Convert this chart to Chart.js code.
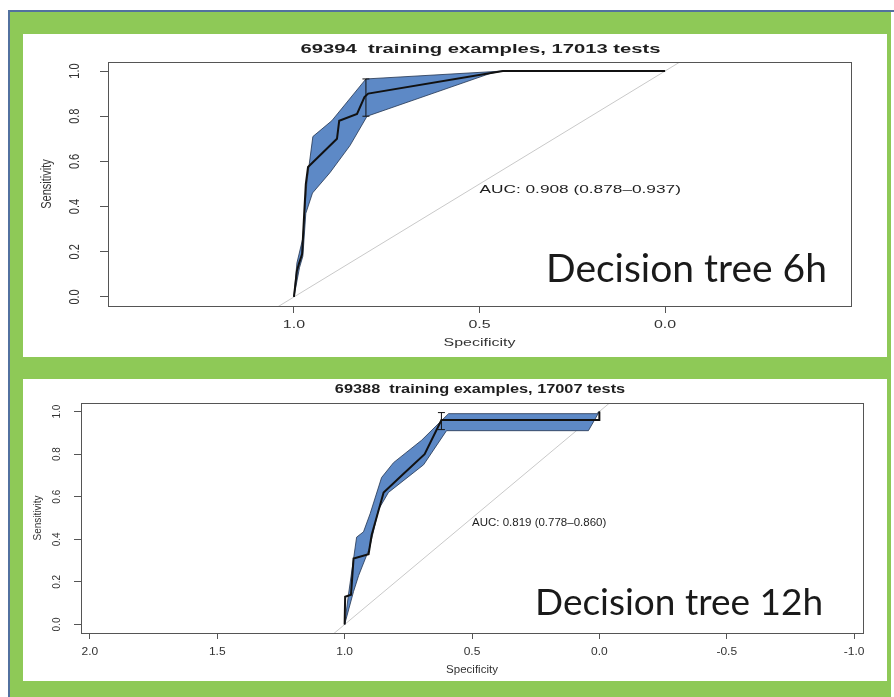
<!DOCTYPE html>
<html>
<head>
<meta charset="utf-8">
<script src="https://cdn.jsdelivr.net/npm/chart.js@4/dist/chart.umd.min.js"></script>
<style>
  html, body { margin: 0; padding: 0; background: #fff; }
  #page { position: relative; width: 894px; height: 697px; overflow: hidden; background: #fff; }
  #rule-top { position: absolute; left: 8px; top: 10px; width: 886px; height: 2px; background: #52719f; }
  #rule-left { position: absolute; left: 8px; top: 10px; width: 2px; height: 687px; background: #52719f; }
  #frame { position: absolute; left: 10px; top: 12px; width: 881px; height: 685px; background: #8ec957; }
  canvas { position: absolute; background: #fff; }
  #c6 { left: 23px; top: 34px; }
  #c12 { left: 23px; top: 379px; }
</style>
</head>
<body>
<div id="page">
  <div id="frame"></div>
  <div id="rule-top"></div>
  <div id="rule-left"></div>
  <canvas id="c6" width="864" height="323"></canvas>
  <canvas id="c12" width="864" height="302"></canvas>
</div>
<script>
// ---- 6 h decision tree: ROC curve and sensitivity confidence band ----
const spec6 = [1.0, 0.992, 0.986, 0.978, 0.972, 0.968, 0.962, 0.884, 0.878, 0.830, 0.810, 0.800, 0.437, 0.0];
const sens6 = [0.0, 0.115, 0.150, 0.190, 0.380, 0.500, 0.575, 0.700, 0.780, 0.810, 0.885, 0.900, 1.0, 1.0];
const ciHiSpec6 = [1.0, 0.992, 0.976, 0.965, 0.949, 0.898, 0.806, 0.437, 0.0];
const ciHiSens6 = [0.0, 0.150, 0.260, 0.510, 0.710, 0.780, 0.965, 1.0, 1.0];
const ciLoSpec6 = [1.0, 0.985, 0.976, 0.968, 0.950, 0.903, 0.849, 0.803, 0.470, 0.437, 0.0];
const ciLoSens6 = [0.0, 0.130, 0.180, 0.370, 0.460, 0.550, 0.670, 0.800, 0.990, 1.0, 1.0];
const ciBar6 = [0.806, 0.800, 0.965];          // specificity, lower, upper
const xTicks6 = [1.0, 0.5, 0.0];
const title6 = '69394  training examples, 17013 tests';
const auc6 = 'AUC: 0.908 (0.878\u20130.937)';
const label6 = 'Decision tree 6h';

// ---- 12 h decision tree ----
const spec12 = [1.0, 0.998, 0.975, 0.965, 0.906, 0.894, 0.847, 0.776, 0.686, 0.620, 0.0, 0.0];
const sens12 = [0.0, 0.130, 0.140, 0.310, 0.330, 0.420, 0.620, 0.700, 0.800, 0.960, 0.960, 1.0];
const ciHiSpec12 = [1.0, 0.985, 0.953, 0.926, 0.900, 0.855, 0.808, 0.698, 0.592, 0.010, 0.0];
const ciHiSens12 = [0.0, 0.140, 0.410, 0.435, 0.520, 0.690, 0.760, 0.865, 0.990, 0.990, 1.0];
const ciLoSpec12 = [1.0, 0.965, 0.945, 0.902, 0.867, 0.828, 0.690, 0.600, 0.043, 0.0];
const ciLoSens12 = [0.0, 0.155, 0.230, 0.360, 0.540, 0.620, 0.750, 0.910, 0.910, 1.0];
const ciBar12 = [0.620, 0.915, 0.995];
const xTicks12 = [2.0, 1.5, 1.0, 0.5, 0.0, -0.5, -1.0];
const title12 = '69388  training examples, 17007 tests';
const auc12 = 'AUC: 0.819 (0.778\u20130.860)';
const label12 = 'Decision tree 12h';

// shared
const yTicks = [0.0, 0.2, 0.4, 0.6, 0.8, 1.0];
const chanceSpec = [1.2, -0.2];
const chanceSens = [-0.2, 1.2];

const pts = (xs, ys) => xs.map((v, i) => ({ x: v, y: ys[i] }));

// closed outline of the band: upper edge out, lower edge back
const band = (hs, hy, ls, ly) => pts(hs, hy).concat(pts(ls, ly).reverse());

const SANS = '"Liberation Sans", Arial, sans-serif';

// frame around the plot region plus all the R-style text
const annotate = {
  id: 'annotate',
  afterDraw(chart, args, o) {
    const { ctx, chartArea: a, scales: { x, y } } = chart;
    ctx.save();
    ctx.strokeStyle = '#555';
    ctx.lineWidth = 1;
    ctx.strokeRect(Math.round(a.left) + 0.5, Math.round(a.top) + 0.5,
                   Math.round(a.right - a.left), Math.round(a.bottom - a.top));
    ctx.restore();

    const put = (txt, px, py, font, sx, align = 'center', rot = 0, color = '#1e1e1e') => {
      ctx.save();
      ctx.translate(px, py);
      ctx.scale(sx, 1);
      if (rot) ctx.rotate(rot);
      ctx.font = font;
      ctx.textAlign = align;
      ctx.textBaseline = 'middle';
      ctx.fillStyle = color;
      ctx.fillText(txt, 0, 0);
      ctx.restore();
    };
    const cx = (a.left + a.right) / 2;
    const cy = (a.top + a.bottom) / 2;

    put(o.title, cx + o.titleShift, o.titleY, o.titleFont, o.titleSx);
    o.yTicks.forEach(v => put(v.toFixed(1), a.left - o.yLabelGap, y.getPixelForValue(v),
                              o.tickFont, o.yTickSx, 'center', -Math.PI / 2, '#333'));
    put('Sensitivity', a.left - o.yTitleGap, cy, o.axisFont, o.yTickSx, 'center', -Math.PI / 2, '#333');
    o.xTicks.forEach(v => put(v.toFixed(1), x.getPixelForValue(v), a.bottom + o.xLabelGap,
                              o.tickFont, o.xTickSx, 'center', 0, '#333'));
    put('Specificity', cx, a.bottom + o.xTitleGap, o.axisFont, o.axisSx, 'center', 0, '#333');
    put(o.auc, x.getPixelForValue(o.aucAt[0]), y.getPixelForValue(o.aucAt[1]), o.aucFont, o.aucSx, 'left');
    put(o.label, o.labelPos[0], o.labelPos[1], o.labelFont, 1, 'left', 0, '#1a1a1a');
  }
};

function rocChart(id, d) {
  return new Chart(document.getElementById(id), {
    type: 'line',
    data: {
      datasets: [
        // lower "order" is painted later (on top)
        { order: 4, data: pts(chanceSpec, chanceSens), borderColor: '#c9c9c9', borderWidth: 1,
          pointRadius: 0, fill: false },
        { order: 3, data: band(d.hiSpec, d.hiSens, d.loSpec, d.loSens), borderColor: '#22344f',
          borderWidth: 0.8, backgroundColor: '#5d89c6', pointRadius: 0, fill: 'shape' },
        { order: 2, data: pts(d.spec, d.sens), borderColor: '#111', borderWidth: 2,
          pointRadius: 0, fill: false },
        { order: 1, data: [{ x: d.bar[0], y: d.bar[1] }, { x: d.bar[0], y: d.bar[2] }],
          borderColor: '#111', borderWidth: 1, pointStyle: 'line', pointRadius: 3.5,
          pointBorderWidth: 1, pointBorderColor: '#111', fill: false }
      ]
    },
    options: {
      responsive: false,
      animation: false,
      devicePixelRatio: 1,
      layout: { padding: { left: 0, top: d.padTop, right: d.padRight, bottom: 0 } },
      plugins: {
        legend: { display: false },
        tooltip: { enabled: false },
        annotate: d.text
      },
      scales: {
        x: {
          type: 'linear', reverse: true, min: d.xMin, max: d.xMax,
          afterBuildTicks: s => { s.ticks = d.xTicks.map(v => ({ value: v })); },
          afterFit: s => { s.height = d.xHeight; },
          ticks: { display: false },
          grid: { drawOnChartArea: false, drawTicks: true, tickLength: d.xTickLen, color: '#555' },
          border: { display: false }
        },
        y: {
          type: 'linear', min: -0.04, max: 1.04,
          afterBuildTicks: s => { s.ticks = yTicks.map(v => ({ value: v })); },
          afterFit: s => { s.width = d.yWidth; },
          ticks: { display: false },
          grid: { drawOnChartArea: false, drawTicks: true, tickLength: d.yTickLen, color: '#555' },
          border: { display: false }
        }
      }
    },
    plugins: [annotate]
  });
}

rocChart('c6', {
  spec: spec6, sens: sens6,
  hiSpec: ciHiSpec6, hiSens: ciHiSens6, loSpec: ciLoSpec6, loSens: ciLoSens6,
  bar: ciBar6, xTicks: xTicks6, xMin: -0.501, xMax: 1.501,
  padTop: 28, padRight: 36, xHeight: 51, yWidth: 85, xTickLen: 7, yTickLen: 8,
  text: {
    title: title6, titleY: 15, titleShift: 1, titleFont: 'bold 13.5px ' + SANS, titleSx: 1.5,
    yTicks: yTicks, xTicks: xTicks6,
    tickFont: '11px ' + SANS, xTickSx: 1.45, yTickSx: 1.3,
    yLabelGap: 33, yTitleGap: 61, xLabelGap: 19, xTitleGap: 37,
    axisFont: '11px ' + SANS, axisSx: 1.45,
    auc: auc6, aucAt: [0.5, 0.475], aucFont: '11.5px ' + SANS, aucSx: 1.5,
    label: label6, labelPos: [523, 235], labelFont: '39px Lato, "Open Sans", sans-serif'
  }
});

rocChart('c12', {
  spec: spec12, sens: sens12,
  hiSpec: ciHiSpec12, hiSens: ciHiSens12, loSpec: ciLoSpec12, loSens: ciLoSens12,
  bar: ciBar12, xTicks: xTicks12, xMin: -1.035, xMax: 2.035,
  padTop: 24, padRight: 24, xHeight: 48, yWidth: 58, xTickLen: 6, yTickLen: 7,
  text: {
    title: title12, titleY: 11, titleShift: 8, titleFont: 'bold 12px ' + SANS, titleSx: 1.36,
    yTicks: yTicks, xTicks: xTicks12,
    tickFont: '10px ' + SANS, xTickSx: 1.2, yTickSx: 1.15,
    yLabelGap: 24, yTitleGap: 43, xLabelGap: 19, xTitleGap: 37,
    axisFont: '10px ' + SANS, axisSx: 1.15,
    auc: auc12, aucAt: [0.5, 0.477], aucFont: '10px ' + SANS, aucSx: 1.15,
    label: label12, labelPos: [512, 224], labelFont: '37px Lato, "Open Sans", sans-serif'
  }
});
</script>
</body>
</html>
